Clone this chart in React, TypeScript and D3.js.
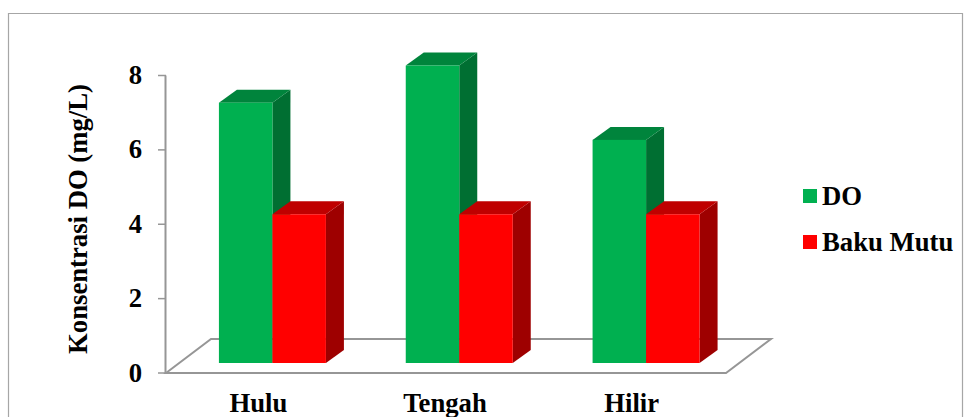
import React from "react";
import * as d3 from "d3";

const categories = ["Hulu", "Tengah", "Hilir"];
const seriesNames = ["DO", "Baku Mutu"];
const doValues = [7, 8, 6];
const bakuMutuValues = [4, 4, 4];
const yTicks = [0, 2, 4, 6, 8];

const font = "'Liberation Serif', 'Times New Roman', serif";
const grey = "#969696";

// Chart geometry
const floorFront = 373;
const yScale = d3.scaleLinear().domain([0, 8]).range([373, 75.5]);
const xLabels = d3.scaleBand<string>().domain(categories).range([165, 725]);
const xBars = d3.scaleBand<string>().domain(categories).range([179, 739.5]);
const barW = 53.5;
const barLift = 10;
const dx = 18;
const dy = 13;
const floorDx = 45;
const floorDy = 34;
const textSize = 26.7;

const colors = [
  { front: "#00b050", top: "#00843c", side: "#006f32" },
  { front: "#ff0000", top: "#bf0000", side: "#9e0000" },
];

function pts(list: [number, number][]) {
  return list.map((p) => p.join(",")).join(" ");
}

function Bar({ x, value, c }: { x: number; value: number; c: (typeof colors)[number] }) {
  const base = yScale(0) - barLift;
  const top = base - (yScale(0) - yScale(value));
  const r = x + barW;
  return (
    <g>
      <polygon points={pts([[r, base], [r + dx, base - dy], [r + dx, top - dy], [r, top]])} fill={c.side} />
      <polygon points={pts([[x, top], [x + dx, top - dy], [r + dx, top - dy], [r, top]])} fill={c.top} />
      <rect x={x} y={top} width={barW} height={base - top} fill={c.front} />
    </g>
  );
}

export default function App() {
  const left = 166;
  const right = 726;
  return (
    <svg
      width={968}
      height={417}
      style={{ position: "absolute", left: 0, top: 0, background: "#fff" }}
      fontFamily={font}
      fontWeight="bold"
      fill="#000"
    >
      <path d="M8.5,417 V13.5 H962.5 V417" fill="none" stroke="#a6a6a6" strokeWidth={1.2} />

      {/* floor */}
      <polygon
        points={pts([
          [left, floorFront],
          [left + floorDx, floorFront - floorDy],
          [right + floorDx, floorFront - floorDy],
          [right, floorFront],
        ])}
        fill="none"
        stroke={grey}
        strokeWidth={2}
      />
      {/* y axis */}
      <line x1={left - 0.5} x2={left - 0.5} y1={yScale(8)} y2={floorFront + 1} stroke={grey} strokeWidth={2} />
      {yTicks.map((t) => (
        <g key={t}>
          <line x1={158} x2={left} y1={yScale(t)} y2={yScale(t)} stroke={grey} strokeWidth={1.5} />
          <text x={135.5} y={yScale(t) + 8.5} fontSize={textSize} textAnchor="middle">
            {t}
          </text>
        </g>
      ))}

      {/* bars */}
      {categories.map((cat, i) => {
        const center = (xBars(cat) as number) + xBars.bandwidth() / 2;
        return (
          <g key={cat}>
            <Bar x={center - barW} value={doValues[i]} c={colors[0]} />
            <Bar x={center} value={bakuMutuValues[i]} c={colors[1]} />
            <text
              x={(xLabels(cat) as number) + xLabels.bandwidth() / 2}
              y={412}
              fontSize={textSize}
              textAnchor="middle"
            >
              {cat}
            </text>
          </g>
        );
      })}

      <text transform="translate(87,219) rotate(-90)" fontSize={textSize} textAnchor="middle">
        Konsentrasi DO (mg/L)
      </text>

      {/* legend */}
      {seriesNames.map((s, i) => (
        <g key={s}>
          <rect x={803} y={189 + i * 46} width={14} height={14} fill={colors[i].front} />
          <text x={822} y={205 + i * 45.5} fontSize={textSize}>
            {s}
          </text>
        </g>
      ))}
    </svg>
  );
}
